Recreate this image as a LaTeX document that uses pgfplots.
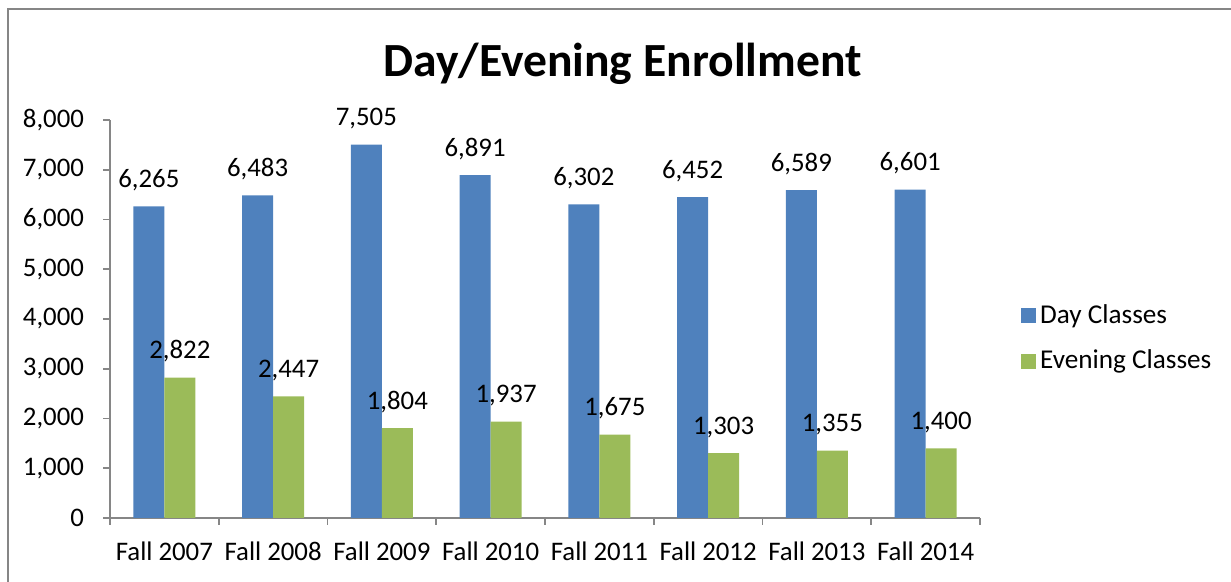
\documentclass[border=0pt]{standalone}
\usepackage{pgfplots}
\pgfplotsset{compat=1.18}
\usepackage{fontspec}
\setmainfont{Carlito}
\definecolor{dayblue}{HTML}{4F81BD}
\definecolor{evegreen}{HTML}{9BBB59}
\definecolor{axgray}{HTML}{868686}
\begin{document}
\begin{tikzpicture}[x=1pt,y=1pt]
\begin{axis}[
  scale only axis,
  width=435pt, height=199pt,
  at={(55pt,32pt)}, anchor=south west,
  xmin=-0.5, xmax=7.5, ymin=0, ymax=8000,
  axis x line*=bottom, axis y line*=left,
  axis line style={axgray, line width=0.9pt, -},
  every tick/.style={axgray, line width=0.9pt},
  tick align=outside, major tick length=3.5pt,
  xtick={-0.5,0.5,...,7.5},
  x tick label as interval=true,
  xticklabels={Fall 2007,Fall 2008,Fall 2009,Fall 2010,Fall 2011,Fall 2012,Fall 2013,Fall 2014},
  ytick={0,1000,...,8000},
  /pgf/number format/.cd, 1000 sep={,}, assume math mode=true,
  /pgfplots/.cd,
  tick label style={font=\fontsize{13.4}{16}\selectfont},
  yticklabel style={xshift=-6pt},
  xticklabel style={yshift=-5pt},
  ybar=0pt,
  bar width=0.285,
  nodes near coords,
  every node near coord/.append style={font=\fontsize{13.4}{16}\selectfont, anchor=base, yshift=9.4pt, text=black},
  legend style={draw=none, fill=none, at={(1.04,0.452)}, anchor=west,
    font=\fontsize{13.6}{16}\selectfont, row sep=8pt,
    legend cell align=left},
  legend image code/.code={\fill[#1] (0pt,-3.75pt) rectangle (7.5pt,3.75pt);},
]
\addplot[fill=dayblue, draw=none, bar shift=-0.1425] coordinates {
  (0,6265) (1,6483) (2,7505) (3,6891) (4,6302) (5,6452) (6,6589) (7,6601)};
\addlegendentry{Day Classes}
\addplot[fill=evegreen, draw=none, bar shift=0.1425] coordinates {
  (0,2822) (1,2447) (2,1804) (3,1937) (4,1675) (5,1303) (6,1355) (7,1400)};
\addlegendentry{Evening Classes}
\end{axis}
\node[font=\bfseries\fontsize{23.8}{28}\selectfont] at (311.25pt,259pt) {Day/Evening Enrollment};
\draw[axgray, line width=1pt] (4pt,0pt) -- (4pt,286.5pt) -- (615.5pt,286.5pt);
\pgfresetboundingbox
\path[use as bounding box] (0pt,0pt) rectangle (615.5pt,291pt);
\end{tikzpicture}
\end{document}
